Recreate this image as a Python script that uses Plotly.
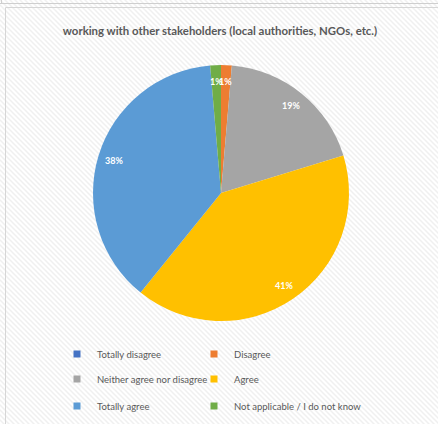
import base64
import math
import plotly.graph_objects as go

# ---- data ----
categories = ["Totally disagree", "Disagree", "Neither agree nor disagree",
              "Agree", "Totally agree", "Not applicable / I do not know"]
counts = [0, 1, 14, 30, 28, 1]
colors = ["#4472C4", "#ED7D31", "#A5A5A5", "#FFC000", "#5B9BD5", "#70AD47"]
title_text = "working with other stakeholders (local authorities, NGOs, etc.)"

W, H = 438, 424
total = sum(counts)
labels_text = [f"{round(v / total * 100)}%" if v > 0 else "" for v in counts]

# pie geometry (pixels)
px0, px1, py0, py1 = 93, 349, 65, 321
dom_x = [px0 / W, px1 / W]
dom_y = [1 - py1 / H, 1 - py0 / H]
cx, cy = (px0 + px1) / 2, (py0 + py1) / 2
radius = (px1 - px0) / 2
label_r = 0.875 * radius

fig = go.Figure()
fig.add_trace(go.Pie(
    labels=categories, values=counts, sort=False, direction="clockwise",
    rotation=0, marker=dict(colors=colors, line=dict(width=0)),
    textinfo="none", showlegend=False, hoverinfo="label+percent",
    domain=dict(x=dom_x, y=dom_y),
))

# percentage labels placed at each slice's mid-angle
annotations = []
cum = 0
for v, t in zip(counts, labels_text):
    if v > 0:
        a = 2 * math.pi * (cum + v / 2) / total
        annotations.append(dict(
            x=(cx + label_r * math.sin(a)) / W, y=1 - (cy - label_r * math.cos(a)) / H,
            xref="paper", yref="paper", text=f"<b>{t}</b>", showarrow=False,
            xanchor="center", yanchor="middle",
            font=dict(family="Lato", size=9, color="white")))
    cum += v

# legend: 2 columns x 3 rows, one legend box per entry
col_x = [57, 194]
row_y = [354, 379, 406]
legend_layouts = {}
for i, (cat, col) in enumerate(zip(categories, colors)):
    key = "legend" if i == 0 else f"legend{i + 1}"
    fig.add_trace(go.Scatter(
        x=[None], y=[None], mode="markers", name=cat,
        marker=dict(symbol="square", size=7, color=col),
        legend=key, showlegend=True,
    ))
    legend_layouts[key] = dict(
        x=col_x[i % 2] / W, y=1 - row_y[i // 2] / H, xanchor="left", yanchor="middle",
        bgcolor="rgba(0,0,0,0)",
        font=dict(family="Lato", size=9.5, color="#595959"))

# striped background
svg = (f'<svg xmlns="http://www.w3.org/2000/svg" width="{W}" height="{H}">'
       '<defs><pattern id="p" patternUnits="userSpaceOnUse" width="5" height="5">'
       '<rect width="5" height="5" fill="#ffffff"/>'
       '<path d="M-1.25,3.75 l2.5,2.5 M0,0 l5,5 M3.75,-1.25 l2.5,2.5" stroke="#f0f0f0" stroke-width="1.5"/>'
       '</pattern></defs>'
       f'<rect width="{W}" height="{H}" fill="url(#p)"/></svg>')
src = "data:image/svg+xml;base64," + base64.b64encode(svg.encode()).decode()

fig.update_layout(
    width=W, height=H,
    margin=dict(l=0, r=0, t=0, b=0),
    paper_bgcolor="white", plot_bgcolor="rgba(0,0,0,0)",
    xaxis=dict(visible=False), yaxis=dict(visible=False),
    title=dict(text=f"<b>{title_text}</b>", x=220 / W, xanchor="center",
               y=1 - 31 / H, yanchor="middle", yref="paper",
               font=dict(family="Lato", size=11.4, color="#595959")),
    annotations=annotations,
    images=[dict(source=src, xref="paper", yref="paper", x=0, y=1,
                 sizex=1, sizey=1, sizing="stretch", xanchor="left",
                 yanchor="top", layer="below")],
    shapes=[
        dict(type="line", xref="paper", yref="paper", x0=0, x1=1,
             y0=1 - 3.5 / H, y1=1 - 3.5 / H, line=dict(color="#cfcfcf", width=1)),
        dict(type="line", xref="paper", yref="paper", x0=1.5 / W, x1=1.5 / W,
             y0=1, y1=1 - 3.5 / H, line=dict(color="#cfcfcf", width=1)),
        dict(type="line", xref="paper", yref="paper", x0=5.5 / W, x1=1,
             y0=1 - 7.5 / H, y1=1 - 7.5 / H, line=dict(color="#d6d6d6", width=1)),
        dict(type="line", xref="paper", yref="paper", x0=5.5 / W, x1=5.5 / W,
             y0=0, y1=1 - 7.5 / H, line=dict(color="#d6d6d6", width=1)),
    ],
    **legend_layouts,
)

fig.write_html("out.html", config={"displayModeBar": False},
               post_script="document.body.style.margin='0';")
